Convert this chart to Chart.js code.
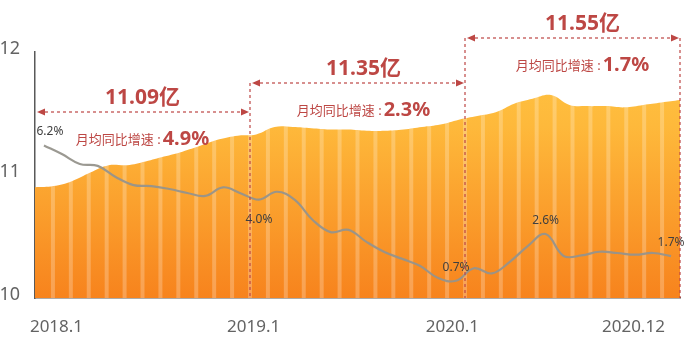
<!DOCTYPE html>
<html lang="zh">
<head>
    <meta charset="UTF-8">
    <title>月均同比增速</title>
    <script src="https://cdn.jsdelivr.net/npm/chart.js"></script>
    <style>
        html, body { margin: 0; padding: 0; background: #fff; }
        #wrap { width: 693px; height: 342px; }
    </style>
</head>
<body>
<div id="wrap"><canvas id="chart"></canvas></div>
<script>
    // months 2018.1 .. 2020.12
    const months = [];
    for (let y = 2018; y <= 2020; y++) {
        for (let m = 1; m <= 12; m++) months.push(y + '.' + m);
    }

    // total (left axis, 亿)
    const totals = [
        10.90, 10.91, 10.95, 11.02, 11.08, 11.08, 11.11, 11.15, 11.19, 11.24, 11.29, 11.32,
        11.33, 11.39, 11.39, 11.38, 11.37, 11.37, 11.36, 11.36, 11.37, 11.39, 11.41, 11.45,
        11.48, 11.51, 11.58, 11.62, 11.65, 11.57, 11.56, 11.56, 11.55, 11.57, 11.59, 11.61
    ];

    // year-on-year growth (%)
    const growth = [
        6.2, 5.85, 5.45, 5.37, 4.92, 4.59, 4.55, 4.43, 4.27, 4.15, 4.5, 4.25,
        4.0, 4.32, 3.99, 3.17, 2.68, 2.77, 2.28, 1.87, 1.59, 1.3, 0.81, 0.7,
        1.21, 1.0, 1.47, 2.11, 2.6, 1.71, 1.73, 1.88, 1.83, 1.76, 1.83, 1.7
    ];

    // months whose growth gets a label
    const labelIdx = [0, 12, 23, 28, 35];

    // bottom tick labels
    const tickLabels = ['2018.1', '2019.1', '2020.1', '2020.12'];

    // per-year summary
    const yearTotals = ['11.09亿', '11.35亿', '11.55亿'];
    const yearGrowth = ['4.9%', '2.3%', '1.7%'];

    const RED = '#bd4744';
    const FONT = "'Noto Sans', 'Noto Sans CJK SC', sans-serif";

    // light stripes between months, drawn right after the area
    const stripes = {
        id: 'stripes',
        afterDatasetDraw(chart, args) {
            if (args.index !== 0) return;
            const { ctx, chartArea } = chart;
            const xc = chart.scales.xc;
            ctx.save();
            ctx.fillStyle = 'rgba(255,255,255,0.24)';
            for (let k = 1; k < months.length; k++) {
                const px = (xc.getPixelForValue(k - 1) + xc.getPixelForValue(k)) / 2;
                ctx.fillRect(px - 2, chartArea.top, 4, chartArea.bottom - chartArea.top);
            }
            ctx.restore();
        }
    };

    // growth value labels
    const pctLabels = {
        id: 'pctLabels',
        afterDatasetsDraw(chart) {
            const ctx = chart.ctx;
            const meta = chart.getDatasetMeta(1);
            const offs = [[6, -14], [0, 20], [0, -13], [0, -13], [0, -14]];
            ctx.save();
            ctx.font = '12px ' + FONT;
            ctx.fillStyle = '#3f3f3f';
            ctx.textAlign = 'center';
            ctx.textBaseline = 'middle';
            labelIdx.forEach((i, n) => {
                const p = meta.data[i];
                ctx.fillText(growth[i].toFixed(1) + '%', p.x + offs[n][0], p.y + offs[n][1]);
            });
            ctx.restore();
        }
    };

    function arrowHead(ctx, x, y, dir) {
        ctx.beginPath();
        ctx.moveTo(x, y);
        ctx.lineTo(x - dir * 8, y - 3.5);
        ctx.lineTo(x - dir * 8, y + 3.5);
        ctx.closePath();
        ctx.fill();
    }

    // year brackets with totals and growth
    const brackets = {
        id: 'brackets',
        afterDraw(chart) {
            const { ctx, chartArea } = chart;
            const xc = chart.scales.xc;
            const edge = k => (xc.getPixelForValue(k - 1) + xc.getPixelForValue(k)) / 2;
            const arrowY = [112, 83, 38];
            const shift = [0, 6, 10];
            ctx.save();
            for (let g = 0; g < 3; g++) {
                const x0 = g === 0 ? chartArea.left : edge(12 * g);
                const x1 = g === 2 ? chartArea.right : edge(12 * (g + 1));
                const ay = arrowY[g];
                const topY = Math.min(ay, g < 2 ? arrowY[g + 1] : ay);

                ctx.strokeStyle = RED;
                ctx.fillStyle = RED;
                ctx.lineWidth = 1.2;
                ctx.setLineDash([3, 3]);
                // vertical at end of the year
                ctx.beginPath();
                ctx.moveTo(x1, topY);
                ctx.lineTo(x1, chartArea.bottom);
                ctx.stroke();
                // horizontal arrow
                ctx.beginPath();
                ctx.moveTo(x0 + 4, ay);
                ctx.lineTo(x1 - 4, ay);
                ctx.stroke();
                ctx.setLineDash([]);
                arrowHead(ctx, x0 + 2, ay, -1);
                arrowHead(ctx, x1 - 1, ay, 1);

                const cx = (x0 + x1) / 2 + shift[g];
                ctx.textBaseline = 'alphabetic';
                ctx.textAlign = 'center';
                ctx.font = 'bold 21px ' + FONT;
                ctx.fillText(yearTotals[g], cx, ay - 8);

                const s1 = '月均同比增速 :';
                ctx.font = '13px ' + FONT;
                const w1 = ctx.measureText(s1).width + 2;
                ctx.font = 'bold 20px ' + FONT;
                const w2 = ctx.measureText(yearGrowth[g]).width;
                const sx = cx - (w1 + w2) / 2;
                ctx.textAlign = 'left';
                ctx.font = '13px ' + FONT;
                ctx.fillText(s1, sx, ay + 32);
                ctx.font = 'bold 20px ' + FONT;
                ctx.fillText(yearGrowth[g], sx + w1, ay + 33);
            }
            ctx.restore();
        }
    };

    const ctx = document.getElementById('chart').getContext('2d');
    new Chart(ctx, {
        data: {
            datasets: [
                {
                    type: 'line',
                    label: '总量',
                    data: totals,
                    xAxisID: 'xa',
                    yAxisID: 'y',
                    order: 2,
                    fill: 'start',
                    tension: 0.4,
                    borderWidth: 0,
                    pointRadius: 0,
                    backgroundColor: (c) => {
                        const a = c.chart.chartArea;
                        if (!a) return '#fbae35';
                        const g = c.chart.ctx.createLinearGradient(0, a.top, 0, a.bottom);
                        g.addColorStop(0, '#ffc442');
                        g.addColorStop(0.3, '#feb93b');
                        g.addColorStop(1, '#f7831d');
                        return g;
                    }
                },
                {
                    type: 'line',
                    label: '同比增速',
                    data: growth,
                    xAxisID: 'xc',
                    yAxisID: 'y2',
                    order: 1,
                    tension: 0.4,
                    borderColor: 'rgba(150,147,140,0.95)',
                    borderWidth: 2.2,
                    pointRadius: 0,
                    fill: false
                }
            ]
        },
        options: {
            responsive: true,
            maintainAspectRatio: false,
            animation: false,
            devicePixelRatio: 1,
            layout: { padding: { top: 52, right: 13, left: 0, bottom: 0 } },
            plugins: {
                legend: { display: false },
                tooltip: { enabled: false }
            },
            scales: {
                xa: { type: 'category', labels: months, offset: false, display: false },
                xc: { type: 'category', labels: months, offset: true, display: false },
                x: {
                    type: 'linear',
                    position: 'bottom',
                    min: 0,
                    max: 36,
                    grid: { display: false },
                    border: { display: true, color: '#595959', width: 1.5 },
                    afterBuildTicks: (s) => {
                        s.ticks = [1.2, 12.2, 23.3, 33.4].map(v => ({ value: v }));
                    },
                    afterFit: (s) => { s.height = 44; },
                    ticks: {
                        autoSkip: false,
                        maxRotation: 0,
                        padding: 11,
                        color: '#636363',
                        font: { family: FONT, size: 17 },
                        callback: (v, i) => tickLabels[i]
                    }
                },
                y: {
                    min: 10,
                    max: 12,
                    grid: { display: false },
                    border: { display: true, color: '#595959', width: 1.5 },
                    afterFit: (s) => { s.width = 35; },
                    ticks: {
                        stepSize: 1,
                        padding: 7,
                        labelOffset: -3,
                        color: '#636363',
                        font: { family: FONT, size: 18 }
                    }
                },
                y2: { min: 0, max: 10, display: false }
            }
        },
        plugins: [stripes, pctLabels, brackets]
    });
</script>
</body>
</html>
